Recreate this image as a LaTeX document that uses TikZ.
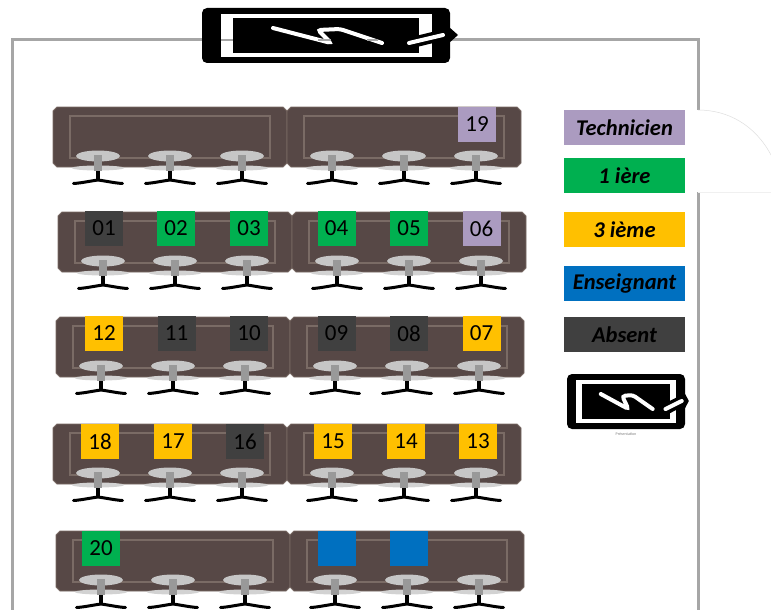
\documentclass[tikz,border=0pt]{standalone}
\usepackage{fontspec}
\setmainfont{Carlito}
\usepackage{xcolor}
\usetikzlibrary{positioning,calc}

\definecolor{deskfill}{HTML}{574846}
\definecolor{deskline}{HTML}{7A6B65}
\definecolor{wallgray}{HTML}{A6A6A6}
\definecolor{techcol}{HTML}{AB9BC0}
\definecolor{firstcol}{HTML}{00B050}
\definecolor{thirdcol}{HTML}{FFC000}
\definecolor{teachcol}{HTML}{0070C0}
\definecolor{absentcol}{HTML}{404040}

\tikzset{
  seatbox/.style={minimum width=38pt, minimum height=35pt, inner sep=0pt, font=\fontsize{23}{23}\selectfont},
  legendbox/.style={minimum width=121pt, minimum height=35pt, inner sep=0pt, font=\fontsize{22.5}{22.5}\selectfont\bfseries\itshape},
  wall/.style={draw=wallgray, line width=3pt},
  pics/chair/.style={code={
    \fill[gray!35] (0,12) circle[x radius=26, y radius=2.5];
    \fill[black] (-1.6,14) rectangle (1.6,25);
    \draw[black, line width=3pt, line cap=round] (-24.5,27.5) .. controls (-16,27) and (-8,25) .. (0,24) .. controls (8,25) and (16,27) .. (24.5,27.5);
    \fill[gray!45] (0,0) circle[x radius=22, y radius=5.5];
    \fill[gray!80] (-4,-1) rectangle (4,15);
  }},
  pics/desk/.style={code={
    \filldraw[fill=deskfill, draw=deskline, line width=0.8pt] (4,0) -- (230,0) -- (234,4) -- (234,56) -- (230,60) -- (4,60) -- (0,56) -- (0,4) -- cycle;
    \draw[deskline, line width=2.5pt] (17,9) rectangle (217,51);
    \foreach \c in {45,117,189}
      \pic at (\c,49) {chair};
  }},
  pics/screen/.style={code={
    \fill[black, rounded corners=5pt] (0,0) rectangle (248,55);
    \fill[black] (247,19) -- (256,27) -- (247,35) -- cycle;
    \fill[white] (19,6) rectangle (230,49);
    \fill[black] (31,10) rectangle (217,45);
    \draw[white, line width=4pt, line cap=round, rounded corners=3pt] (71,20) -- (129,35) -- (116,22) -- (138,21) -- (180,35);
    \draw[black, line width=11pt, line cap=round] (208,35) -- (241,27);
    \draw[white, line width=4pt, line cap=round] (207,35) -- (241,27);
  }},
}

\begin{document}
\begin{tikzpicture}[x=1pt, y=-1pt]
  \useasboundingbox (0,0) rectangle (771,610);
  \fill[white] (0,0) rectangle (771,610);

  % room and door
  \draw[wall] (12,610) -- (12,40) -- (698,40) -- (698,110);
  \draw[wall] (698,192) -- (698,610);
  \draw[gray!25, line width=0.5pt] (698,110) .. controls (728,110) and (755,125) .. (771,155);
  \draw[gray!12, line width=0.8pt] (698,192) -- (771,192);

  % screens
  \pic at (202,8) {screen};
  \draw[wallgray, line width=2pt] (221,40) -- (233,40);
  \draw[wallgray, line width=2pt] (318,40) -- (331,40);
  \draw[wallgray, line width=2pt] (367,40) -- (378,40);
  \pic[xscale=0.476] at (567,374) {screen};
  \node[font=\fontsize{4}{4}\selectfont, text=gray] (screenlabel) at (626,434) {Présentation};

  % desks
  \foreach \x/\y in {53/107,287/107,58/212,292/212,56/317,290/317,53/424,287/424,56/531,290/531}
    \pic at (\x,\y) {desk};

  % pupils
  \node[seatbox, fill=techcol] (s19) at (477,124.5) {19};

  \node[seatbox, fill=absentcol] (s01) at (104,228.5) {01};
  \node[seatbox, fill=firstcol] (s02) at (176,228.5) {02};
  \node[seatbox, fill=firstcol] (s03) at (249,228.5) {03};
  \node[seatbox, fill=firstcol] (s04) at (336.5,228.5) {04};
  \node[seatbox, fill=firstcol] (s05) at (409,228.5) {05};
  \node[seatbox, fill=techcol] (s06) at (481.5,228.5) {06};

  \node[seatbox, fill=thirdcol] (s12) at (104,333.5) {12};
  \node[seatbox, fill=absentcol] (s11) at (176.5,333.5) {11};
  \node[seatbox, fill=absentcol] (s10) at (249,333.5) {10};
  \node[seatbox, fill=absentcol] (s09) at (336.5,333.5) {09};
  \node[seatbox, fill=absentcol] (s08) at (409,333.5) {08};
  \node[seatbox, fill=thirdcol] (s07) at (481.5,333.5) {07};

  \node[seatbox, fill=thirdcol] (s18) at (100,441.5) {18};
  \node[seatbox, fill=thirdcol] (s17) at (173,441.5) {17};
  \node[seatbox, fill=absentcol] (s16) at (245,441.5) {16};
  \node[seatbox, fill=thirdcol] (s15) at (333,441.5) {15};
  \node[seatbox, fill=thirdcol] (s14) at (406,441.5) {14};
  \node[seatbox, fill=thirdcol] (s13) at (478,441.5) {13};

  \node[seatbox, fill=firstcol] (s20) at (101,548.5) {20};
  \node[seatbox, fill=teachcol] (t1) at (336.5,548.5) {};
  \node[seatbox, fill=teachcol] (t2) at (409,548.5) {};

  % legend
  \node[legendbox, fill=techcol] (legtech) at (624.5,127.5) {Technicien};
  \node[legendbox, fill=firstcol] (legfirst) at (624.5,175.5) {1 ière};
  \node[legendbox, fill=thirdcol] (legthird) at (624.5,229.5) {3 ième};
  \node[legendbox, fill=teachcol] (legteach) at (624.5,283.5) {Enseignant};
  \node[legendbox, fill=absentcol] (legabsent) at (624.5,334.5) {Absent};
\end{tikzpicture}
\end{document}
